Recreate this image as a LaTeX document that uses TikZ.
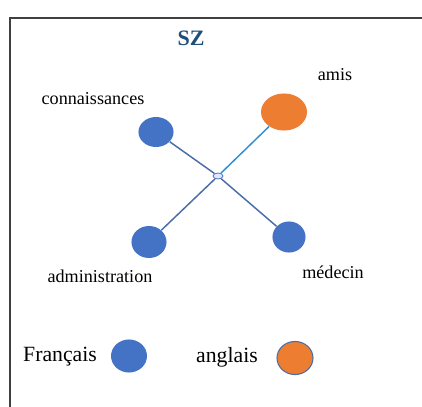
\documentclass[tikz,border=0pt]{standalone}
\usepackage{fontspec}
\setmainfont{Liberation Serif}
\usetikzlibrary{shapes.geometric}

\definecolor{nodeblue}{HTML}{4472C4}
\definecolor{nodeorange}{HTML}{ED7D31}
\definecolor{linkblue}{HTML}{4A6DA8}
\definecolor{linklight}{HTML}{2E8FD4}
\definecolor{titleblue}{HTML}{1F4E79}
\definecolor{framegray}{HTML}{404040}

\begin{document}
\begin{tikzpicture}[x=0.75pt,y=-0.75pt,
    member/.style={ellipse, draw=none, inner sep=0pt},
    word/.style={inner sep=0pt, font=\fontsize{13.6}{16}\selectfont},
    legend/.style={inner sep=0pt, font=\fontsize{16.3}{19}\selectfont}
  ]

  \useasboundingbox (0,0) rectangle (422,407);

  % Frame (only top and left sides are visible)
  \draw[framegray, line width=1.2pt] (10,407) -- (10,18) -- (422,18);

  % Title
  \node[inner sep=0pt, font=\fontsize{16.5}{19}\selectfont\bfseries, text=titleblue] (title) at (191,38) {SZ};

  % Define nodes
  \node[member, fill=nodeblue, minimum width=26.3pt, minimum height=22.5pt] (conn) at (156,132) {};
  \node[member, fill=nodeorange, minimum width=34.5pt, minimum height=27.8pt] (amis) at (284,112) {};
  \node[member, fill=nodeblue, minimum width=26.3pt, minimum height=24pt] (admin) at (149,242) {};
  \node[member, fill=nodeblue, minimum width=24.8pt, minimum height=23.3pt] (med) at (289,237) {};
  \node[ellipse, draw=nodeblue, fill=blue!10, line width=0.6pt, inner sep=0pt,
        minimum width=7.5pt, minimum height=4.5pt] (hub) at (218,176) {};

  % Draw links
  \foreach \n in {conn,admin,med} {
    \draw[linkblue, line width=1.1pt] (hub) -- (\n);
  }
  \draw[linklight, line width=1.1pt] (hub) -- (amis);

  % Labels
  \node[word] (connlabel) at (93,99) {connaissances};
  \node[word] (amislabel) at (335,75) {amis};
  \node[word] (adminlabel) at (100,276) {administration};
  \node[word] (medlabel) at (333,272) {médecin};

  % Legend
  \node[legend] (fr) at (60,357) {Français};
  \node[member, fill=nodeblue, minimum width=27pt, minimum height=24.8pt] (frdot) at (129,356) {};
  \node[legend] (en) at (227,357) {anglais};
  \node[ellipse, draw=linkblue, fill=nodeorange, line width=0.8pt, inner sep=0pt,
        minimum width=27pt, minimum height=24.8pt] (endot) at (295,358) {};

\end{tikzpicture}
\end{document}
